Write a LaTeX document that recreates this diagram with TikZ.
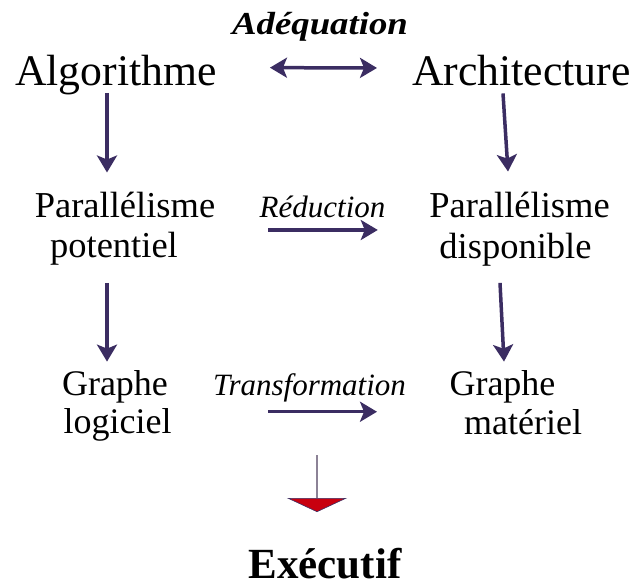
\documentclass[tikz,border=0pt]{standalone}
\usepackage{fontspec}
\setmainfont{Liberation Serif}
\usetikzlibrary{arrows.meta}
\definecolor{arrowink}{HTML}{3B2D62}
\definecolor{stemgray}{HTML}{8C8296}
\definecolor{tipred}{HTML}{C8000F}

\begin{document}
\begin{tikzpicture}[x=1pt,y=-1pt,
  word/.style={inner sep=0pt,outer sep=0pt,anchor=base},
  big/.style={word,font=\fontsize{43.7}{48}\selectfont},
  mid/.style={word,font=\fontsize{36.5}{40}\selectfont},
  lbl/.style={word,font=\fontsize{31}{34}\selectfont\itshape},
  head/.tip={Stealth[length=17pt,width=20pt,inset=4pt]},
  flow/.style={draw=arrowink,line width=3.5pt,-{head}},
  flowboth/.style={draw=arrowink,line width=3.5pt,{head}-{head}},
  ]
\useasboundingbox (0,0) rectangle (634,586);

% top row
\node[word,font=\fontsize{32}{36}\selectfont\bfseries\itshape] (adeq) at (320,35) {\scalebox{1.15}[1]{Adéquation}};
\node[big] (algo) at (116,85) {Algorithme};
\node[big] (arch) at (521.5,85) {Architecture};

% middle row
\node[mid] (pp1) at (125,217) {Parallélisme};
\node[mid] (pp2) at (114,257) {potentiel};
\node[mid] (pd1) at (519.5,217) {Parallélisme};
\node[mid] (pd2) at (515.5,258) {disponible};
\node[lbl] (red) at (322.5,217) {Réduction};

% bottom row
\node[mid,font=\fontsize{36}{40}\selectfont] (gl1) at (115,395) {Graphe};
\node[mid,font=\fontsize{36}{40}\selectfont] (gl2) at (117.5,433) {logiciel};
\node[mid,font=\fontsize{36}{40}\selectfont] (gm1) at (502.5,395) {Graphe};
\node[mid,font=\fontsize{36}{40}\selectfont] (gm2) at (523,434) {matériel};
\node[lbl] (trans) at (309.5,395) {Transformation};

% result
\node[word,font=\fontsize{43}{48}\selectfont\bfseries] (exec) at (325,578) {Exécutif};
\coordinate (stem) at (317,455);

% connectors
\draw[flowboth] ([xshift=53.2pt,yshift=6.9pt]algo.east) -- ([xshift=-35.3pt,yshift=2.1pt]arch.west);
\draw[flow] ([xshift=-9pt,yshift=1.5pt]algo.south) -- ([xshift=-18pt,yshift=19.1pt]pp1.north);
\draw[flow] ([xshift=-18.5pt,yshift=-8pt]arch.south) -- ([xshift=-11.5pt,yshift=20.1pt]pd1.north);
\draw[flow] ([xshift=53pt,yshift=-25.5pt]pp1.east) -- ([xshift=-51.5pt,yshift=-25.5pt]pd1.west);
\draw[flow] ([xshift=-7pt,yshift=-18.1pt]pp2.south) -- ([xshift=-8pt,yshift=8.4pt]gl1.north);
\draw[flow] ([xshift=-15.5pt,yshift=-17.1pt]pd2.south) -- ([xshift=1.5pt,yshift=8.4pt]gm1.north);
\draw[flow] ([xshift=100pt,yshift=-25.4pt]gl1.east) -- ([xshift=-72.5pt,yshift=-25.4pt]gm1.west);
\draw[stemgray,line width=1.8pt,-{Triangle[length=14pt,width=60pt,fill=tipred,color=arrowink,line width=0.6pt]}]
  (stem) -- ([xshift=-8pt,yshift=35.7pt]exec.north);
\end{tikzpicture}
\end{document}
